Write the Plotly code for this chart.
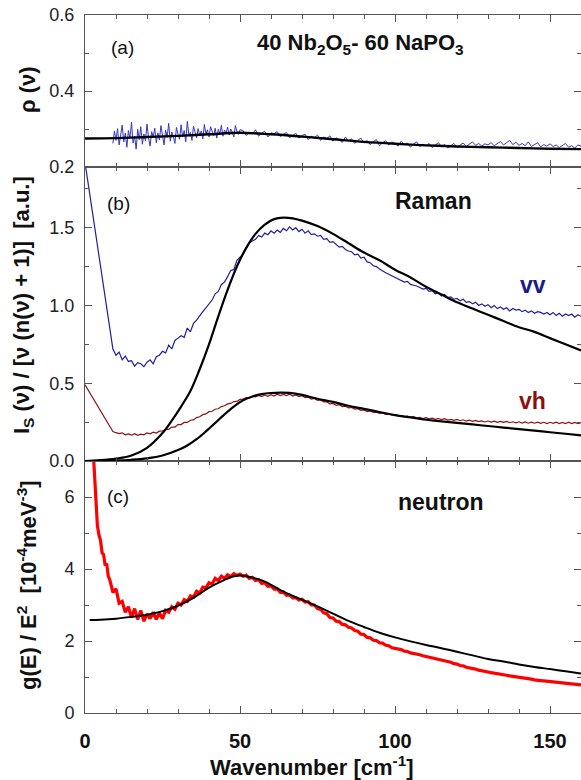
import plotly.graph_objects as go

# ---------------- Panel (a): rho(nu) ----------------
rho_x_dense = [9 + 0.5 * i for i in range(83)]          # 9 ... 50 step 0.5
rho_y_dense = [0.262, 0.295, 0.270, 0.301, 0.258, 0.284, 0.310, 0.266, 0.289, 0.252,
               0.296, 0.275, 0.318, 0.263, 0.281, 0.247, 0.299, 0.272, 0.306, 0.260,
               0.287, 0.269, 0.313, 0.276, 0.255, 0.293, 0.279, 0.302, 0.264, 0.290,
               0.271, 0.309, 0.283, 0.258, 0.297, 0.278, 0.315, 0.268, 0.292, 0.281,
               0.262, 0.304, 0.286, 0.273, 0.311, 0.279, 0.296, 0.266, 0.320, 0.284,
               0.291, 0.270, 0.307, 0.288, 0.277, 0.301, 0.282, 0.295, 0.274, 0.312,
               0.286, 0.298, 0.279, 0.306, 0.291, 0.283, 0.302, 0.276, 0.299, 0.288,
               0.310, 0.281, 0.297, 0.289, 0.305, 0.284, 0.300, 0.292, 0.279, 0.309,
               0.294, 0.286, 0.298]
rho_x_sparse = list(range(51, 161))
rho_y_sparse = [0.296, 0.283, 0.291, 0.287, 0.298, 0.281, 0.289, 0.294, 0.279, 0.290,
                0.288, 0.293, 0.280, 0.286, 0.291, 0.277, 0.284, 0.289, 0.276, 0.283,
                0.286, 0.272, 0.281, 0.277, 0.284, 0.270, 0.279, 0.275, 0.282, 0.268,
                0.277, 0.271, 0.265, 0.279, 0.268, 0.274, 0.262, 0.270, 0.276, 0.263,
                0.270, 0.259, 0.267, 0.272, 0.256, 0.264, 0.269, 0.258, 0.266, 0.262,
                0.255, 0.268, 0.259, 0.263, 0.252, 0.261, 0.266, 0.254, 0.260, 0.256,
                0.262, 0.251, 0.258, 0.264, 0.253, 0.259, 0.250, 0.257, 0.262, 0.252,
                0.258, 0.263, 0.254, 0.260, 0.266, 0.257, 0.262, 0.255, 0.261, 0.258,
                0.264, 0.256, 0.261, 0.267, 0.258, 0.263, 0.270, 0.259, 0.265, 0.257,
                0.262, 0.256, 0.266, 0.254, 0.260, 0.264, 0.253, 0.259, 0.255, 0.261,
                0.254, 0.258, 0.251, 0.257, 0.262, 0.252, 0.256, 0.250, 0.258, 0.255]
rho_fit_x = [0, 10, 20, 30, 40, 50, 60, 70, 80, 90, 100, 110, 120, 130, 140, 150, 160]
rho_fit_y = [0.275, 0.276, 0.279, 0.282, 0.286, 0.290, 0.286, 0.280, 0.273, 0.266,
             0.261, 0.257, 0.254, 0.252, 0.250, 0.248, 0.247]

# ---------------- Panel (b): Raman ----------------
raman_x = [0] + list(range(9, 161))
vv_y = [1.92,
        0.72, 0.68, 0.70, 0.65, 0.675, 0.64, 0.645, 0.61, 0.632, 0.625, 0.607,
        0.635, 0.65, 0.625, 0.67, 0.68, 0.705, 0.695, 0.745, 0.72, 0.775,
        0.79, 0.805, 0.795, 0.855, 0.83, 0.885, 0.905, 0.935, 0.96, 0.985,
        1.01, 1.035, 1.075, 1.09, 1.135, 1.15, 1.185, 1.225, 1.23, 1.29,
        1.31, 1.33, 1.365, 1.40, 1.415, 1.425, 1.45, 1.44, 1.465, 1.455,
        1.48, 1.465, 1.485, 1.47, 1.495, 1.48, 1.505, 1.485, 1.50, 1.475,
        1.49, 1.465, 1.48, 1.455, 1.46, 1.445, 1.45, 1.425, 1.43, 1.405,
        1.41, 1.39, 1.375, 1.38, 1.36, 1.35, 1.345, 1.325, 1.33, 1.305,
        1.31, 1.28, 1.275, 1.255, 1.25, 1.235, 1.22, 1.21, 1.20, 1.19,
        1.185, 1.17, 1.165, 1.15, 1.155, 1.135, 1.13, 1.125, 1.115, 1.105,
        1.11, 1.09, 1.095, 1.075, 1.08, 1.06, 1.07, 1.05, 1.055, 1.04,
        1.045, 1.03, 1.04, 1.02, 1.025, 1.01, 1.02, 1.0, 1.01, 0.995,
        1.005, 0.985, 1.0, 0.98, 0.99, 0.975, 0.985, 0.965, 0.98, 0.97,
        0.975, 0.96, 0.97, 0.955, 0.965, 0.95, 0.96, 0.955, 0.945, 0.955,
        0.94, 0.955, 0.935, 0.95, 0.93, 0.945, 0.935, 0.945, 0.925, 0.94, 0.93]
vh_y = [0.49,
        0.19, 0.182, 0.176, 0.181, 0.168, 0.174, 0.166, 0.176, 0.165, 0.173,
        0.168, 0.181, 0.175, 0.185, 0.180, 0.192, 0.193, 0.204, 0.203, 0.218,
        0.218, 0.234, 0.234, 0.248, 0.248, 0.262, 0.264, 0.279, 0.284, 0.298,
        0.303, 0.317, 0.320, 0.333, 0.336, 0.350, 0.355, 0.367, 0.370, 0.382,
        0.383, 0.396, 0.398, 0.408, 0.404, 0.415, 0.412, 0.421, 0.414, 0.424,
        0.416, 0.426, 0.418, 0.429, 0.420, 0.428, 0.421, 0.430, 0.418, 0.424,
        0.414, 0.420, 0.407, 0.411, 0.398, 0.402, 0.390, 0.392, 0.380, 0.380,
        0.368, 0.370, 0.358, 0.362, 0.350, 0.352, 0.342, 0.344, 0.334, 0.336,
        0.326, 0.328, 0.318, 0.322, 0.312, 0.314, 0.306, 0.309, 0.300, 0.303,
        0.295, 0.298, 0.290, 0.292, 0.284, 0.289, 0.282, 0.286, 0.277, 0.281,
        0.273, 0.279, 0.271, 0.276, 0.268, 0.273, 0.266, 0.272, 0.263, 0.268,
        0.261, 0.267, 0.259, 0.265, 0.256, 0.262, 0.255, 0.261, 0.253, 0.258,
        0.251, 0.257, 0.250, 0.256, 0.248, 0.254, 0.248, 0.255, 0.246, 0.252,
        0.245, 0.252, 0.244, 0.251, 0.243, 0.250, 0.243, 0.250, 0.242, 0.249,
        0.241, 0.249, 0.242, 0.249, 0.240, 0.248, 0.241, 0.249, 0.241, 0.248,
        0.241, 0.247]
vv_fit_x = [0, 5, 10, 15, 20, 25, 28, 31, 34, 37, 40, 43, 46, 49, 52, 55, 58, 61, 64,
            67, 70, 75, 80, 85, 90, 95, 100, 105, 110, 115, 120, 125, 130, 135, 140,
            145, 150, 155, 160]
vv_fit_y = [0.0, 0.005, 0.015, 0.035, 0.085, 0.18, 0.26, 0.35, 0.45, 0.59, 0.75, 0.93,
            1.10, 1.25, 1.37, 1.46, 1.52, 1.555, 1.565, 1.56, 1.545, 1.51, 1.46, 1.40,
            1.34, 1.29, 1.23, 1.18, 1.12, 1.07, 1.02, 0.98, 0.94, 0.90, 0.86, 0.83,
            0.79, 0.75, 0.71]
vh_fit_x = [0, 10, 15, 20, 25, 30, 33, 36, 39, 42, 45, 48, 51, 54, 57, 60, 63, 66, 70,
            75, 80, 85, 90, 95, 100, 105, 110, 115, 120, 125, 130, 135, 140, 145, 150,
            155, 160]
vh_fit_y = [0.0, 0.003, 0.008, 0.017, 0.035, 0.07, 0.10, 0.14, 0.19, 0.245, 0.30, 0.35,
            0.39, 0.415, 0.43, 0.437, 0.44, 0.438, 0.425, 0.40, 0.38, 0.355, 0.335,
            0.315, 0.295, 0.28, 0.265, 0.255, 0.245, 0.235, 0.225, 0.215, 0.205, 0.195,
            0.185, 0.175, 0.165]

# ---------------- Panel (c): neutron ----------------
gE_x = [2.5, 3, 3.5, 4, 4.5, 5, 5.5, 6, 6.5, 7, 7.5, 8] + list(range(9, 161))
gE_y = [7.5, 6.8, 5.9, 5.2, 4.95, 4.8, 4.45, 4.4, 4.1, 4.15, 3.8, 3.7,
        3.35, 3.45, 3.05, 3.1, 2.8, 2.95, 2.65, 2.9, 2.6, 2.85,
        2.55, 2.75, 2.62, 2.8, 2.6, 2.78, 2.62, 2.85, 2.8, 2.95,
        2.88, 3.05, 3.0, 3.15, 3.1, 3.25, 3.22, 3.38, 3.33, 3.5,
        3.48, 3.62, 3.58, 3.74, 3.68, 3.8, 3.74, 3.84, 3.79, 3.87,
        3.82, 3.86, 3.8, 3.83, 3.74, 3.77, 3.68, 3.7, 3.6, 3.62,
        3.52, 3.53, 3.44, 3.45, 3.35, 3.36, 3.27, 3.28, 3.2, 3.2,
        3.14, 3.16, 3.08, 3.09, 3.0, 3.0, 2.9, 2.88, 2.78, 2.76,
        2.65, 2.64, 2.55, 2.54, 2.46, 2.45, 2.38, 2.36, 2.29, 2.27,
        2.19, 2.18, 2.10, 2.09, 2.02, 2.01, 1.95, 1.94, 1.88, 1.87,
        1.81, 1.80, 1.77, 1.76, 1.72, 1.71, 1.67, 1.66, 1.63, 1.62,
        1.59, 1.57, 1.55, 1.54, 1.5, 1.49, 1.46, 1.45, 1.42, 1.41,
        1.37, 1.36, 1.32, 1.31, 1.27, 1.26, 1.23, 1.22, 1.19, 1.18,
        1.15, 1.14, 1.12, 1.11, 1.09, 1.08, 1.06, 1.05, 1.03, 1.02,
        1.0, 0.99, 0.97, 0.97, 0.95, 0.94, 0.92, 0.92, 0.9, 0.89,
        0.88, 0.87, 0.86, 0.85, 0.84, 0.83, 0.82, 0.82, 0.81, 0.8,
        0.79, 0.78]
gE_fit_x = [1.5, 5, 10, 15, 20, 25, 30, 35, 40, 45, 48, 50, 52, 55, 58, 60, 65, 70, 75,
            80, 85, 90, 95, 100, 105, 110, 115, 120, 125, 130, 135, 140, 145, 150, 155, 160]
gE_fit_y = [2.58, 2.59, 2.62, 2.67, 2.73, 2.83, 2.98, 3.2, 3.48, 3.7, 3.8, 3.82, 3.8,
            3.74, 3.65, 3.56, 3.33, 3.15, 2.96, 2.76, 2.56, 2.39, 2.23, 2.1, 1.99, 1.89,
            1.80, 1.70, 1.60, 1.50, 1.43, 1.35, 1.28, 1.22, 1.16, 1.10]

x_ticks = [0, 50, 100, 150]
x_tick_labels = ["0", "50", "100", "150"]

# ---------------- Figure ----------------
FONT = "Liberation Sans, Arial, sans-serif"
AX = "#555555"
fig = go.Figure()

fig.add_trace(go.Scatter(x=rho_x_dense + rho_x_sparse, y=rho_y_dense + rho_y_sparse,
                         mode="lines", line=dict(color="#3535c8", width=1),
                         xaxis="x3", yaxis="y3", showlegend=False))
fig.add_trace(go.Scatter(x=rho_fit_x, y=rho_fit_y, mode="lines",
                         line=dict(color="black", width=2.4, shape="spline"),
                         xaxis="x3", yaxis="y3", showlegend=False))

fig.add_trace(go.Scatter(x=raman_x, y=vv_y, mode="lines",
                         line=dict(color="#1e1ea0", width=1.2),
                         xaxis="x2", yaxis="y2", showlegend=False))
fig.add_trace(go.Scatter(x=raman_x, y=vh_y, mode="lines",
                         line=dict(color="#8b1414", width=1.2),
                         xaxis="x2", yaxis="y2", showlegend=False))
fig.add_trace(go.Scatter(x=vv_fit_x, y=vv_fit_y, mode="lines",
                         line=dict(color="black", width=2.2, shape="spline"),
                         xaxis="x2", yaxis="y2", showlegend=False))
fig.add_trace(go.Scatter(x=vh_fit_x, y=vh_fit_y, mode="lines",
                         line=dict(color="black", width=2.2, shape="spline"),
                         xaxis="x2", yaxis="y2", showlegend=False))

fig.add_trace(go.Scatter(x=gE_x, y=gE_y, mode="lines",
                         line=dict(color="#ff0000", width=3.2),
                         xaxis="x", yaxis="y", showlegend=False))
fig.add_trace(go.Scatter(x=gE_fit_x, y=gE_fit_y, mode="lines",
                         line=dict(color="black", width=2, shape="spline"),
                         xaxis="x", yaxis="y", showlegend=False))

PLOT_L, PLOT_W, PLOT_T, PLOT_H = 85, 496, 15, 698
def px(xp):
    return (xp - PLOT_L) / PLOT_W
def py(yp):
    return (PLOT_T + PLOT_H - yp) / PLOT_H

dom_a = [py(167), 1.0]
dom_b = [py(461), py(167)]
dom_c = [0.0, py(461)]

common_x = dict(range=[0, 160], showline=True, linecolor=AX, linewidth=1,
                mirror="ticks", ticks="inside", ticklen=7, tickcolor=AX, tickwidth=1,
                tickvals=x_ticks, showgrid=False, zeroline=False,
                minor=dict(dtick=10, ticks="inside", ticklen=4, tickcolor=AX, showgrid=False))
common_y = dict(showline=True, linecolor=AX, linewidth=1, mirror="ticks",
                ticks="inside", ticklen=7, tickcolor=AX, tickwidth=1, showgrid=False,
                zeroline=False, tickfont=dict(family=FONT, size=18, color="#222222"),
                ticklabelstandoff=6)

fig.update_layout(
    width=581, height=780,
    margin=dict(l=PLOT_L, r=0, t=PLOT_T, b=780 - PLOT_T - PLOT_H),
    paper_bgcolor="white", plot_bgcolor="white",
    xaxis=dict(**common_x, anchor="y", ticktext=x_tick_labels,
               tickfont=dict(family=FONT, size=20, color="#111111", weight="bold"),
               ticklabelstandoff=10),
    xaxis2=dict(**common_x, anchor="y2", matches="x", showticklabels=False),
    xaxis3=dict(**common_x, anchor="y3", matches="x", showticklabels=False),
    yaxis=dict(**common_y, domain=dom_c, range=[0, 7], tickvals=[0, 2, 4, 6],
               minor=dict(dtick=1, ticks="inside", ticklen=4, tickcolor=AX)),
    yaxis2=dict(**common_y, domain=dom_b, range=[0, 1.89],
                tickvals=[0.0, 0.5, 1.0, 1.5], ticktext=["0.0", "0.5", "1.0", "1.5"],
                minor=dict(dtick=0.25, ticks="inside", ticklen=4, tickcolor=AX)),
    yaxis3=dict(**common_y, domain=dom_a, range=[0.2, 0.6],
                tickvals=[0.2, 0.4, 0.6], ticktext=["0.2", "0.4", "0.6"],
                minor=dict(dtick=0.1, ticks="inside", ticklen=4, tickcolor=AX)),
)

def note(text, xp, yp, size, color="#111111", bold=True, angle=0):
    fig.add_annotation(text=f"<b>{text}</b>" if bold else text,
                       x=px(xp), y=py(yp), xref="paper", yref="paper",
                       xanchor="center", yanchor="middle", showarrow=False,
                       textangle=angle,
                       font=dict(family=FONT, size=size, color=color))

note("(a)", 122, 47, 19, bold=False)
note("(b)", 118, 203, 19, bold=False)
note("(c)", 118, 497, 19, bold=False)
note("40 Nb<sub>2</sub>O<sub>5</sub>- 60 NaPO<sub>3</sub>", 360, 44, 22)
note("Raman", 433, 201, 23)
note("neutron", 441, 502, 23)
note("vv", 533, 285, 23, color="#1a1a8c")
note("vh", 532, 401, 23, color="#8b0f0f")
note("ρ (ν)", 27, 90, 22, angle=-90)
note("I<sub>S</sub> (ν) / [ν (n(ν) + 1)]  [a.u.]", 23, 305, 22, angle=-90)
note("g(E) / E<sup>2</sup>  [10<sup>-4</sup>meV<sup>-3</sup>]", 27, 585, 22, angle=-90)
note("Wavenumber [cm<sup>-1</sup>]", 312, 766, 22)

fig.write_html("out.html", config={"displayModeBar": False},
               post_script="document.body.style.margin='0';document.body.style.overflow='hidden';")
